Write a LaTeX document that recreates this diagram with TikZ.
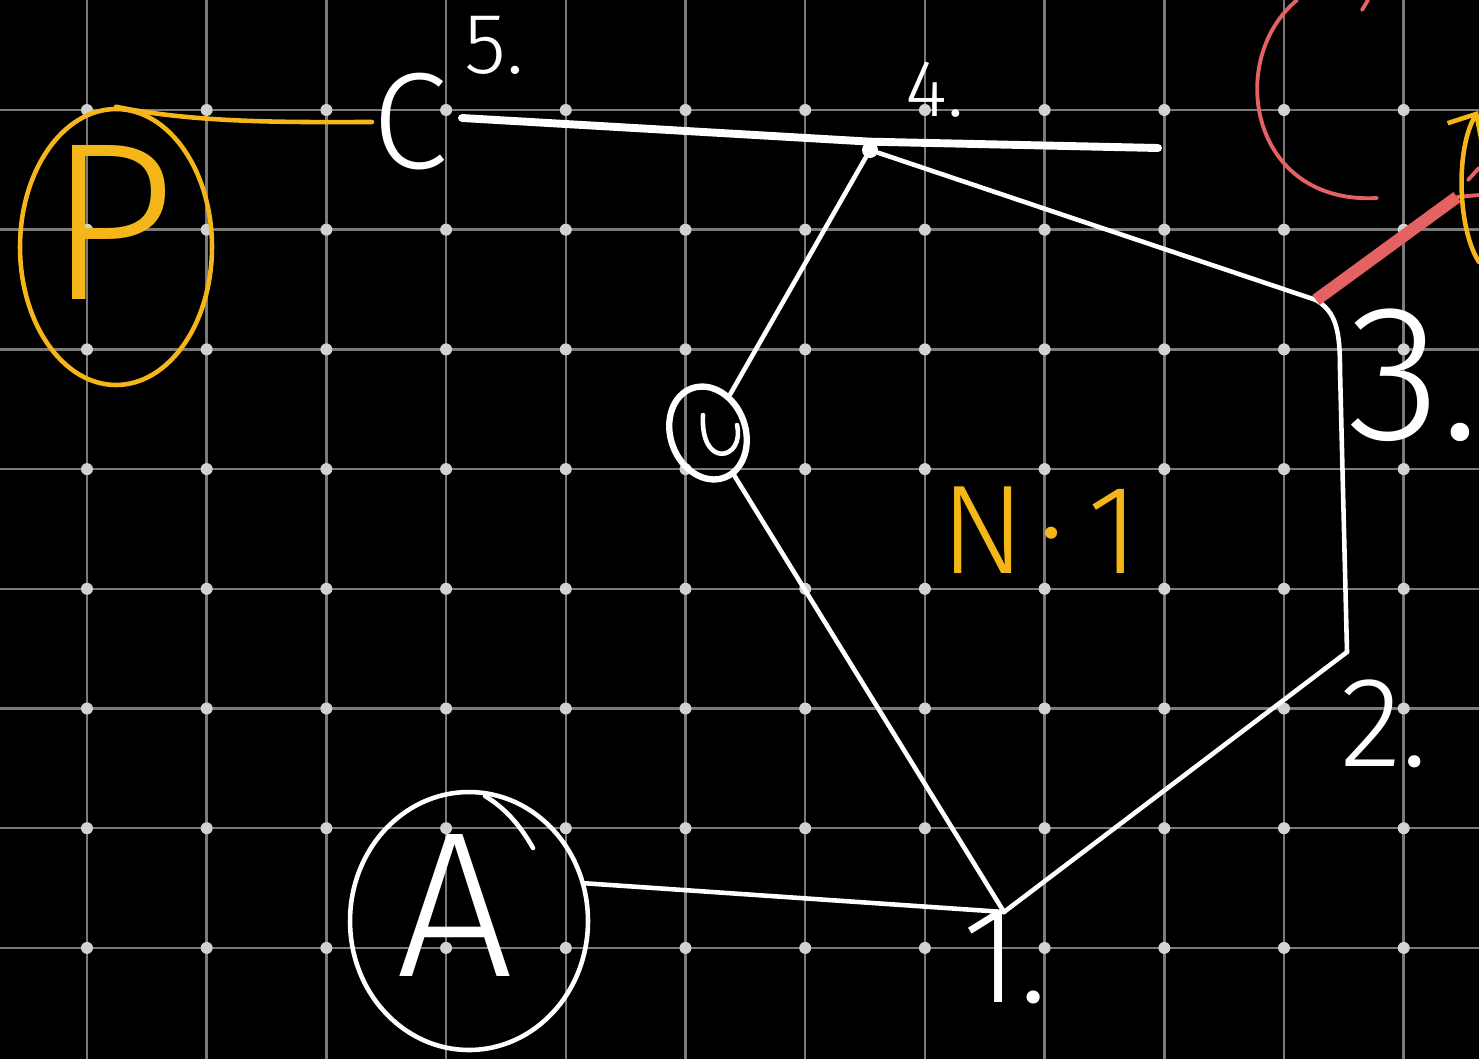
\documentclass[tikz,border=0pt]{standalone}
\usepackage{fontspec}
\setmainfont{Fira Sans}[UprightFont={* Light}]
\usetikzlibrary{shapes.geometric, arrows.meta, positioning}
\definecolor{chalkgrey}{RGB}{122,122,122}
\definecolor{dotgrey}{RGB}{210,210,210}
\definecolor{ochre}{RGB}{244,182,24}
\definecolor{inkred}{RGB}{228,98,98}

\begin{document}
\begin{tikzpicture}[
        x=0.02cm, y=-0.02cm,
        gridline/.style={chalkgrey, line width=1.4pt},
        griddot/.style={fill=dotgrey},
        chalk/.style={white, line width=2.6pt, line cap=round, line join=round},
        yellowink/.style={ochre, line width=2.6pt, line cap=round},
        redink/.style={inkred, line width=2.2pt, line cap=round},
        ring/.style={draw, ellipse, line width=2.6pt, inner sep=0pt},
        chalktext/.style={text=white, inner sep=0pt}
    ]
        \useasboundingbox (0,0) rectangle (1479,1059);
        \fill[black] (0,0) rectangle (1479,1059);
        \clip (0,0) rectangle (1479,1059);

        % grid paper
        \foreach \k in {0,...,11}
            \draw[gridline] ({87+119.7*\k},0) -- ({87+119.7*\k},1059);
        \foreach \k in {0,...,7}
            \draw[gridline] (0,{110+119.7*\k}) -- (1479,{110+119.7*\k});
        \foreach \k in {0,...,11}
            \foreach \j in {0,...,7}
                \fill[griddot] ({87+119.7*\k},{110+119.7*\j}) circle (0.12cm);

        % P group
        \node[ring, ochre, minimum width=3.84cm, minimum height=5.52cm] (Pring) at (116,247) {};
        \node[text=ochre, inner sep=0pt, font=\fontsize{128}{130}\selectfont] (Ptext) at (112,222) {P};

        % carbon 5 and 4
        \node[chalktext, font=\fontsize{78}{80}\selectfont] (C5) at (410,122) {C};
        \node[chalktext, font=\fontsize{49}{52}\selectfont] (num5) at (494,45) {5.};
        \node[chalktext, font=\fontsize{46}{48}\selectfont] (num4) at (935,90) {4.};
        \node[circle, fill=white, inner sep=0pt, minimum size=0.32cm] (C4) at (870,150) {};
        \coordinate (barL) at (462,118);
        \coordinate (barR) at (1158,148);
        \draw[chalk, line width=4.5pt] (barL) -- (C4.north) -- (barR);
        \draw[yellowink] (Pring.north) .. controls (200,124) and (300,122) .. (C5.west);

        % ring
        \coordinate (C3) at (1316,300);
        \coordinate (C2) at (1347,652);
        \coordinate (C1) at (1004,912);
        \node[ring, white, line width=3.6pt, minimum width=1.5cm, minimum height=1.9cm, rotate=20] (ringO) at (708,433) {};
        \draw[chalk] (703,415) .. controls (700,470) and (745,460) .. (737,425);
        \draw[chalk] (C4) -- (C3);
        \draw[chalk] (C3) .. controls (1336,312) and (1340,330) .. (1340,370) -- (C2);
        \draw[chalk] (C2) -- (C1);
        \draw[chalk] (C1) -- (ringO);
        \draw[chalk] (ringO) -- (C4);

        \node[chalktext, font=\fontsize{110}{112}\selectfont] (num3) at (1414,375) {3.};
        \node[chalktext, font=\fontsize{73}{75}\selectfont] (num2) at (1384,724) {2.};
        \node[chalktext, font=\fontsize{78}{80}\selectfont] (num1) at (1005,958) {1.};
        \node[text=ochre, inner sep=0pt, font=\fontsize{72}{74}\selectfont] (anomer) at (1040,530) {N\hspace{0.1em}·\hspace{0.18em}1};

        % A group
        \node[ring, white, minimum width=4.76cm, minimum height=5.16cm] (Aring) at (469,921) {};
        \node[chalktext, font=\fontsize{118}{120}\selectfont] (Atext) at (455,905) {A};
        \draw[chalk] (485,796) .. controls (505,808) and (520,825) .. (533,848);
        \draw[chalk] (Aring.18) -- (C1);

        % red and yellow marks, top right
        \coordinate (redTip) at (1457,197);
        \draw[redink] (1297,0) .. controls (1225,60) and (1250,205) .. (1377,198);
        \draw[redink] (1362,10) -- (1368,0);
        \draw[redink, line width=7pt, line cap=butt] (C3) -- (redTip);
        \draw[redink] (redTip) -- (1479,195);
        \draw[redink] (1468,180) -- (1479,168);
        \coordinate (arrowTip) at (1478,111);
        \draw[yellowink, -{Straight Barb[length=0.45cm, width=0.8cm]}] (1479,262) .. controls (1458,230) and (1455,150) .. (arrowTip);
    \end{tikzpicture}
\end{document}
